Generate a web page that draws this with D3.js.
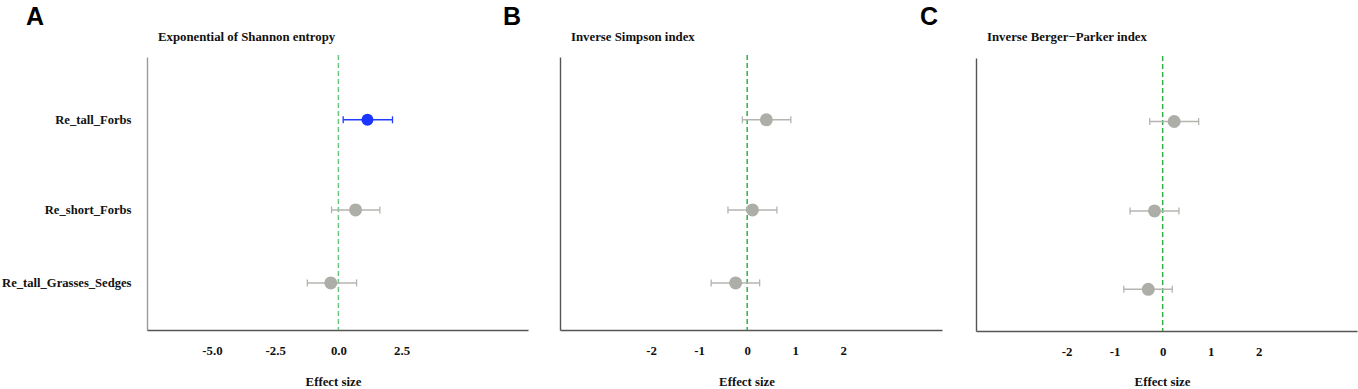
<!DOCTYPE html>
<html>
<head>
<meta charset="utf-8">
<script src="https://cdn.jsdelivr.net/npm/d3@7"></script>
<style>
  body { margin: 0; background: #fff; }
  svg { display: block; }
  .tick text, .ttl, .ylab { font-family: "Liberation Serif", "Times New Roman", serif; font-weight: bold; fill: #111; }
  .letter { font-family: "Liberation Sans", Arial, sans-serif; font-weight: bold; font-size: 25px; fill: #000; }
</style>
</head>
<body>
<div id="chart"></div>
<script>
// categorias (de cima para baixo)
const categories = ["Re_tall_Forbs", "Re_short_Forbs", "Re_tall_Grasses_Sedges"];
// posição de cada linha no eixo y (escala 0–4)
const rowPosAB = [3.08, 1.76, 0.69];
const rowPosC = [3.07, 1.76, 0.61];

const shannonMean = [1.15, 0.68, -0.30];
const shannonLow = [0.19, -0.27, -1.23];
const shannonHigh = [2.14, 1.64, 0.72];

const simpsonMean = [0.40, 0.11, -0.24];
const simpsonLow = [-0.10, -0.40, -0.75];
const simpsonHigh = [0.91, 0.62, 0.26];

const bergerMean = [0.24, -0.17, -0.30];
const bergerLow = [-0.27, -0.68, -0.81];
const bergerHigh = [0.75, 0.34, 0.20];

const shannonTicks = [-5, -2.5, 0, 2.5];
const simpsonTicks = [-2, -1, 0, 1, 2];
const bergerTicks = [-2, -1, 0, 1, 2];

const shannonDomain = [-7.57, 7.5];
const simpsonDomain = [-3.9, 4.06];
const bergerDomain = [-3.89, 4.05];

const W = 1358, H = 389;
const svg = d3.select("#chart").append("svg").attr("width", W).attr("height", H);

// hífen simples em vez do sinal de menos unicode
const hy = (f) => (d) => f(d).replace("\u2212", "-");

const panels = [
  { letter: "A", lx: 26, title: "Exponential of Shannon entropy", left: 147, right: 528, top: 57, bottom: 330,
    mean: shannonMean, low: shannonLow, high: shannonHigh, ticks: shannonTicks, domain: shannonDomain,
    fmt: hy(d3.format(".1f")), rows: rowPosAB, ylabels: true, yColor: "#9a9a9a", zeroColor: "#6cc582" },
  { letter: "B", lx: 503, title: "Inverse Simpson index", left: 560, right: 942, top: 57, bottom: 330,
    mean: simpsonMean, low: simpsonLow, high: simpsonHigh, ticks: simpsonTicks, domain: simpsonDomain,
    fmt: hy(d3.format("d")), rows: rowPosAB, ylabels: false, yColor: "#555", zeroColor: "#2fae4a" },
  { letter: "C", lx: 920, title: "Inverse Berger\u2212Parker index", left: 976, right: 1357, top: 58, bottom: 331,
    mean: bergerMean, low: bergerLow, high: bergerHigh, ticks: bergerTicks, domain: bergerDomain,
    fmt: hy(d3.format("d")), rows: rowPosC, ylabels: false, yColor: "#555", zeroColor: "#2fae4a" }
];

panels.forEach((p) => {
  const x = d3.scaleLinear().domain(p.domain).range([p.left, p.right]);
  const y = d3.scaleLinear().domain([0, 4]).range([p.bottom, p.top]);
  const g = svg.append("g");

  g.append("text").attr("class", "letter").attr("x", p.lx).attr("y", 25).text(p.letter);
  g.append("text").attr("class", "ttl").attr("x", p.left + 11).attr("y", 41)
    .style("font-size", "12.8px").text(p.title);

  // eixo y
  const yAxis = g.append("g").attr("transform", `translate(${p.left},0)`)
    .call(d3.axisLeft(y).tickValues(p.ylabels ? p.rows : []).tickSize(0).tickPadding(15.5)
      .tickFormat((d, i) => categories[i]));
  yAxis.select(".domain").attr("stroke", p.yColor).attr("stroke-width", 1.4);
  yAxis.selectAll(".tick text").style("font-size", "12.6px");

  // eixo x
  const xAxis = g.append("g").attr("transform", `translate(0,${p.bottom})`)
    .call(d3.axisBottom(x).tickValues(p.ticks).tickSize(0).tickPadding(15.5).tickFormat(p.fmt));
  xAxis.select(".domain").attr("stroke", "#555").attr("stroke-width", 1.4);
  xAxis.selectAll(".tick text").style("font-size", "12.8px");

  g.append("text").attr("class", "ttl").attr("x", (p.left + p.right) / 2 - 4).attr("y", 386)
    .attr("text-anchor", "middle").style("font-size", "12.8px").text("Effect size");

  // linha do zero
  g.append("line")
    .attr("x1", x(0)).attr("x2", x(0)).attr("y1", p.top - 2).attr("y2", p.bottom)
    .attr("stroke", p.zeroColor).attr("stroke-width", 1.5).attr("stroke-dasharray", "5,3");

  const rows = categories.map((c, i) => ({
    c, y: p.rows[i], m: p.mean[i], lo: p.low[i], hi: p.high[i],
    sig: p.low[i] > 0 || p.high[i] < 0
  }));

  const eg = g.selectAll(".est").data(rows).enter().append("g");
  const col = (d) => d.sig ? "#1f3dff" : "#b4b4b0";
  eg.append("line").attr("x1", (d) => x(d.lo)).attr("x2", (d) => x(d.hi))
    .attr("y1", (d) => y(d.y)).attr("y2", (d) => y(d.y))
    .attr("stroke", col).attr("stroke-width", 1.5);
  [(d) => d.lo, (d) => d.hi].forEach((f) => {
    eg.append("line").attr("x1", (d) => x(f(d))).attr("x2", (d) => x(f(d)))
      .attr("y1", (d) => y(d.y) - 3.5).attr("y2", (d) => y(d.y) + 3.5)
      .attr("stroke", col).attr("stroke-width", 1.3);
  });
  eg.append("circle").attr("cx", (d) => x(d.m)).attr("cy", (d) => y(d.y))
    .attr("r", (d) => d.sig ? 6 : 6.5)
    .attr("fill", (d) => d.sig ? "#1a35ff" : "#aeaea9");
});
</script>
</body>
</html>
